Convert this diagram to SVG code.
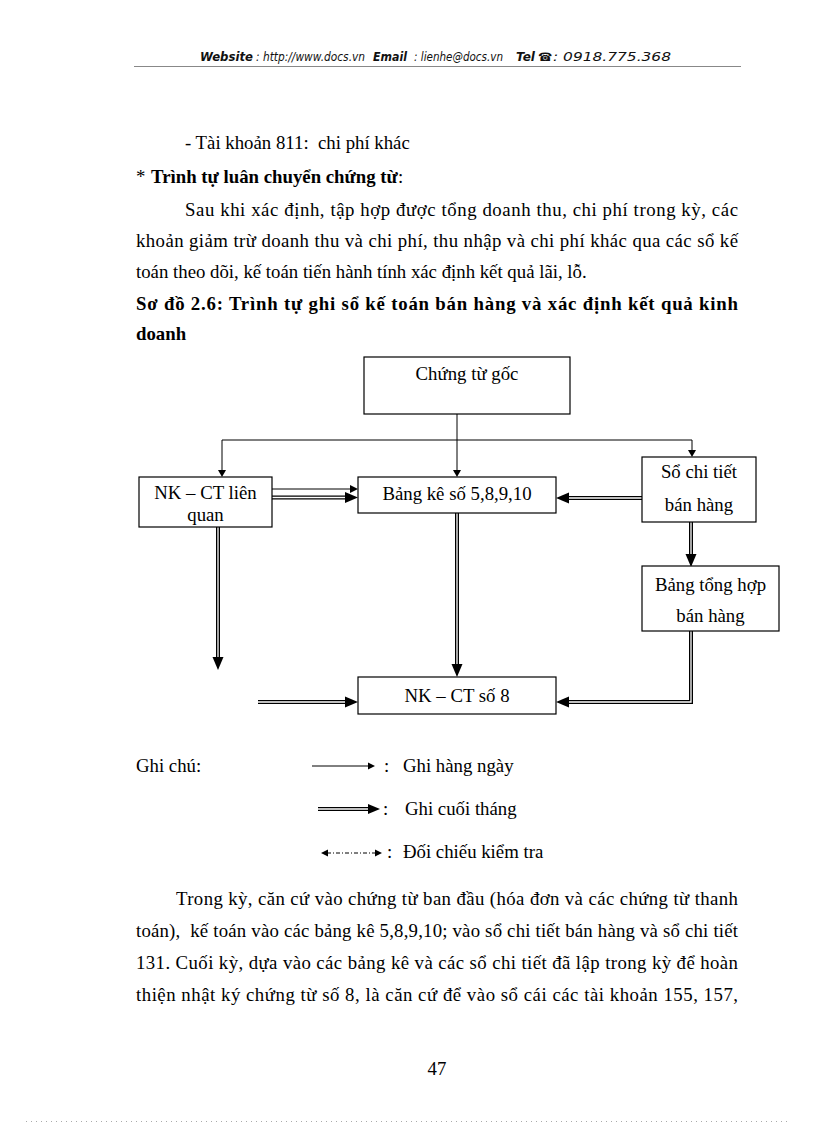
<svg xmlns="http://www.w3.org/2000/svg" width="816" height="1123" viewBox="0 0 816 1123">
<style>
.t{font-family:"Liberation Serif","Times New Roman",serif;font-size:18.8px;fill:#000}
.b{font-weight:bold}
.c{text-anchor:middle}
.hd{font-family:"DejaVu Sans",Verdana,sans-serif;font-size:11.5px;font-style:italic;fill:#111}
.hb{font-weight:bold}
.box{fill:#fff;stroke:#000;stroke-width:1.2}
.thin{fill:none;stroke:#000;stroke-width:1}
.dbo{fill:none;stroke:#000;stroke-width:4;stroke-linejoin:miter}
.dbi{fill:none;stroke:#fff;stroke-width:1.3;stroke-linejoin:miter}
.ah{fill:#000}
</style>

<g id="header">
<text class="hd hb" x="200" y="61" textLength="53" lengthAdjust="spacingAndGlyphs">Website</text>
<text class="hd" x="256" y="61" textLength="109" lengthAdjust="spacingAndGlyphs">: http://www.docs.vn</text>
<text class="hd hb" x="373" y="61" textLength="34" lengthAdjust="spacingAndGlyphs">Email</text>
<text class="hd" x="414" y="61" textLength="89" lengthAdjust="spacingAndGlyphs">: lienhe@docs.vn</text>
<text class="hd hb" x="516" y="61" textLength="19" lengthAdjust="spacingAndGlyphs">Tel</text>
<text class="hd hb" x="538" y="61" font-style="normal" font-size="10">☎</text>
<text class="hd" x="553" y="61" textLength="118" lengthAdjust="spacingAndGlyphs">: 0918.775.368</text>
<line x1="134" y1="66.5" x2="741" y2="66.5" stroke="#888" stroke-width="1"/>
</g>

<g id="intro-text">
<text class="t" x="185" y="149" xml:space="preserve">- Tài khoản 811:  chi phí khác</text>
<text class="t" x="136" y="183">*</text>
<text class="t b" x="151" y="183">Trình tự luân chuyển chứng từ<tspan font-weight="normal">:</tspan></text>
<text class="t" x="185" y="216" textLength="553" lengthAdjust="spacing">Sau khi xác định, tập hợp được tổng doanh thu, chi phí trong kỳ, các</text>
<text class="t" x="136" y="247" textLength="602" lengthAdjust="spacing">khoản giảm trừ doanh thu và chi phí, thu nhập và chi phí khác qua các sổ kế</text>
<text class="t" x="136" y="278">toán theo dõi, kế toán tiến hành tính xác định kết quả lãi, lỗ.</text>
<text class="t b" x="136" y="310" textLength="602" lengthAdjust="spacing">Sơ đồ 2.6: Trình tự ghi sổ kế toán bán hàng và xác định kết quả kinh</text>
<text class="t b" x="136" y="340">doanh</text>
</g>

<g id="connectors">
<path class="thin" d="M457,414 V471"/>
<polygon class="ah" points="453,470 461,470 457,477"/>
<path class="thin" d="M222,471 V440 H692 V451"/>
<polygon class="ah" points="218,470 226,470 222,477"/>
<polygon class="ah" points="688,450 696,450 692,457"/>
<path class="thin" d="M272,489 H351"/>
<polygon class="ah" points="350,485 350,493 358,489"/>
<path class="dbo" d="M272,497.5 H347"/><path class="dbi" d="M272,497.5 H347"/>
<polygon class="ah" points="345,492 345,503 358,497.5"/>
<path class="dbo" d="M642,498 H567"/><path class="dbi" d="M642,498 H567"/>
<polygon class="ah" points="569,492.5 569,503.5 556,498"/>
<path class="dbo" d="M218,527 V659"/><path class="dbi" d="M218,527 V659"/>
<polygon class="ah" points="212.5,657 223.5,657 218,670"/>
<path class="dbo" d="M457,513 V666"/><path class="dbi" d="M457,513 V666"/>
<polygon class="ah" points="451.5,664 462.5,664 457,677"/>
<path class="dbo" d="M691,522 V556"/><path class="dbi" d="M691,522 V556"/>
<polygon class="ah" points="685.5,554 696.5,554 691,567"/>
<path class="dbo" d="M691,631 V702 H567"/><path class="dbi" d="M691,631 V702 H567"/>
<polygon class="ah" points="569,696.5 569,707.5 556,702"/>
<path class="dbo" d="M258,702 H347"/><path class="dbi" d="M258,702 H347"/>
<polygon class="ah" points="345,696.5 345,707.5 358,702"/>
</g>

<g id="n-chungtugoc">
<rect class="box" x="364" y="357" width="206" height="57"/>
<text class="t c" x="467" y="380">Chứng từ gốc</text>
</g>
<g id="n-nkct-lienquan">
<rect class="box" x="139" y="477" width="133" height="50"/>
<text class="t c" x="205.5" y="499">NK – CT liên</text>
<text class="t c" x="205.5" y="521">quan</text>
</g>
<g id="n-bangke">
<rect class="box" x="358" y="477" width="198" height="36"/>
<text class="t c" x="457" y="500">Bảng kê số 5,8,9,10</text>
</g>
<g id="n-sochitiet">
<rect class="box" x="642" y="457" width="114" height="65"/>
<text class="t c" x="699" y="478">Sổ chi tiết</text>
<text class="t c" x="699" y="511">bán hàng</text>
</g>
<g id="n-bangtonghop">
<rect class="box" x="642" y="566" width="137" height="65"/>
<text class="t c" x="710.5" y="591">Bảng tổng hợp</text>
<text class="t c" x="710.5" y="622">bán hàng</text>
</g>
<g id="n-nkct8">
<rect class="box" x="358" y="677" width="198" height="37"/>
<text class="t c" x="457" y="702">NK – CT số 8</text>
</g>

<g id="legend">
<text class="t" x="136" y="772">Ghi chú:</text>
<path class="thin" d="M312,766 H369"/>
<polygon class="ah" points="368,762.5 368,769.5 375,766"/>
<text class="t" x="384" y="772">:</text>
<text class="t" x="403" y="772">Ghi hàng ngày</text>
<path class="dbo" d="M318,809 H370"/><path class="dbi" d="M318,809 H370"/>
<polygon class="ah" points="368,804 368,814 380,809"/>
<text class="t" x="383" y="815" font-size="12">:</text>
<text class="t" x="405" y="815">Ghi cuối tháng</text>
<path class="thin" d="M327,853 H376" stroke-dasharray="4,2,1,2"/>
<polygon class="ah" points="328,849.5 328,856.5 321,853"/>
<polygon class="ah" points="375,849.5 375,856.5 382,853"/>
<text class="t" x="387" y="858">:</text>
<text class="t" x="403" y="858">Đối chiếu kiểm tra</text>
</g>

<g id="body-text">
<text class="t" x="176" y="905" textLength="562" lengthAdjust="spacing">Trong kỳ, căn cứ vào chứng từ ban đầu (hóa đơn và các chứng từ thanh</text>
<text class="t" x="136" y="937" textLength="602" lengthAdjust="spacing" xml:space="preserve">toán),  kế toán vào các bảng kê 5,8,9,10; vào sổ chi tiết bán hàng và sổ chi tiết</text>
<text class="t" x="136" y="969" textLength="602" lengthAdjust="spacing">131. Cuối kỳ, dựa vào các bảng kê và các sổ chi tiết đã lập trong kỳ để hoàn</text>
<text class="t" x="136" y="1001" textLength="602" lengthAdjust="spacing">thiện nhật ký chứng từ số 8, là căn cứ để vào sổ cái các tài khoản 155, 157,</text>
</g>

<g id="footer">
<text class="t c" x="437" y="1075">47</text>
<line x1="26" y1="1121.5" x2="791" y2="1121.5" stroke="#aaa" stroke-width="1" stroke-dasharray="1,4"/>
</g>
</svg>
